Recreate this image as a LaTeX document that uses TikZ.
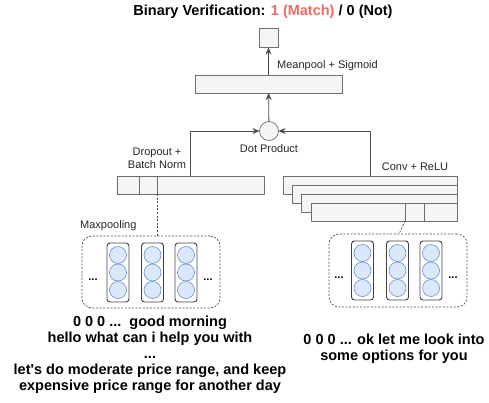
\documentclass[tikz,border=0pt]{standalone}
\usepackage{fontspec}
\setmainfont{Liberation Sans}
\usetikzlibrary{arrows.meta}
\definecolor{linegray}{HTML}{4D4D4D}
\definecolor{boxgray}{HTML}{6E6E6E}
\definecolor{boxfill}{HTML}{F5F5F5}
\definecolor{cellfill}{HTML}{DAE8FC}
\definecolor{cellline}{HTML}{6C8EBF}
\definecolor{matchred}{HTML}{EA6B66}
\tikzset{
	layer/.style={draw=boxgray,fill=boxfill,line width=0.7pt,minimum height=18pt,inner sep=0pt,outer sep=0pt},
	cellcol/.style={draw=black!75,line width=0.9pt,rounded corners=3pt,fill=white,minimum width=22pt,minimum height=59pt,inner sep=0pt},
	cell/.style={circle,draw=cellline,line width=0.6pt,fill=cellfill,minimum size=17pt,inner sep=0pt},
	wordbox/.style={draw=black!70,line width=0.7pt,dash pattern=on 2pt off 1.6pt,rounded corners=10pt,inner sep=0pt},
	lbl/.style={font=\fontsize{11}{13}\selectfont,align=center,inner sep=0pt,text=black!85},
	utter/.style={font=\fontsize{14.5}{16}\selectfont\bfseries,align=center,inner sep=0pt},
}
\begin{document}
\begin{tikzpicture}[x=1pt,y=-1pt,>={Stealth[length=7pt,width=6pt]},line join=round]
	\useasboundingbox (0,0) rectangle (489,402);
	\node[font=\fontsize{14.5}{16}\selectfont\bfseries] (title) at (263,12) {Binary Verification: \textcolor{matchred}{1 (Match)} / 0 (Not)};
	% top of the network
	\node[layer,minimum width=19pt,minimum height=19pt] (out) at (268.5,38) {};
	\node[layer,minimum width=147pt] (pool) at (268.5,84) {};
	\node[layer,circle,minimum size=19pt] (dot) at (269,131) {};
	\node[layer,minimum width=147pt] (lvec) at (190.5,185) {};
	\draw[boxgray,line width=0.7pt] (139,176)--(139,194) (157,176)--(157,194);
	\coordinate (lcut) at (157,194);
	% stacked conv maps
	\node[layer,minimum width=174pt] (conv1) at (370,185) {};
	\node[layer,minimum width=165pt] (conv2) at (374.5,194) {};
	\node[layer,minimum width=156pt] (conv3) at (379,203) {};
	\node[layer,minimum width=146pt] (conv4) at (384,212) {};
	\draw[boxgray,line width=0.7pt] (405,203)--(405,221) (424,203)--(424,221);
	\coordinate (rcut) at (405,221);
	% word windows
	\node[wordbox,minimum width=138pt,minimum height=72pt] (lwords) at (151,272) {};
	\node[wordbox,minimum width=138pt,minimum height=73pt] (rwords) at (398,270.5) {};
	\coordinate (rin) at (399,234);
	\foreach \k/\cx/\cy in {l1/118/272.5,l2/152.5/272.5,l3/186/272.5,r1/362.5/270.5,r2/397.5/270.5,r3/431/270.5}{
		\node[cellcol] (col\k) at (\cx,\cy) {};
		\node[cell] (cell\k a) at (\cx,\cy-17.5) {};
		\node[cell] (cell\k b) at (\cx,\cy) {};
		\node[cell] (cell\k c) at (\cx,\cy+17.5) {};
	}
	\foreach \n/\px/\py in {ldl/93/280,ldr/208/280,rdl/339/278,rdr/453/278}
	\node[font=\fontsize{11}{13}\selectfont\bfseries,inner sep=0pt] (\n) at (\px,\py) {...};
	% connectors
	\draw[linegray,thick,->] (dot)--(pool);
	\draw[linegray,thick,->] (pool)--(out);
	\draw[linegray,thick,->] (lvec.north)|-(dot.west);
	\draw[linegray,thick,->] (conv1.north)|-(dot.east);
	\draw[black!70,line width=0.7pt,dash pattern=on 2pt off 1.6pt] (lcut)--(lcut|-lwords.north);
	\draw[black!70,line width=0.7pt,dash pattern=on 2pt off 1.6pt] (rcut)--(rin);
	% labels
	\node[lbl,anchor=west] (meanlbl) at (277,66) {Meanpool + Sigmoid};
	\node[lbl] (droplbl) at (157,158.5) {Dropout +\\Batch Norm};
	\node[lbl] (dotlbl) at (269,149) {Dot Product};
	\node[lbl] (convlbl) at (415,167) {Conv + ReLU};
	\node[lbl,anchor=west] (poollbl) at (80,226) {Maxpooling};
	\node[utter] (lutter) at (150,355) {0 0 0 ...\ \ good morning\\hello what can i help you with\\...\\let\textquotesingle s do moderate price range, and keep\\expensive price range for another day};
	\node[utter] (rutter) at (394,349) {0 0 0 ... ok let me look into\\some options for you};
\end{tikzpicture}
\end{document}
